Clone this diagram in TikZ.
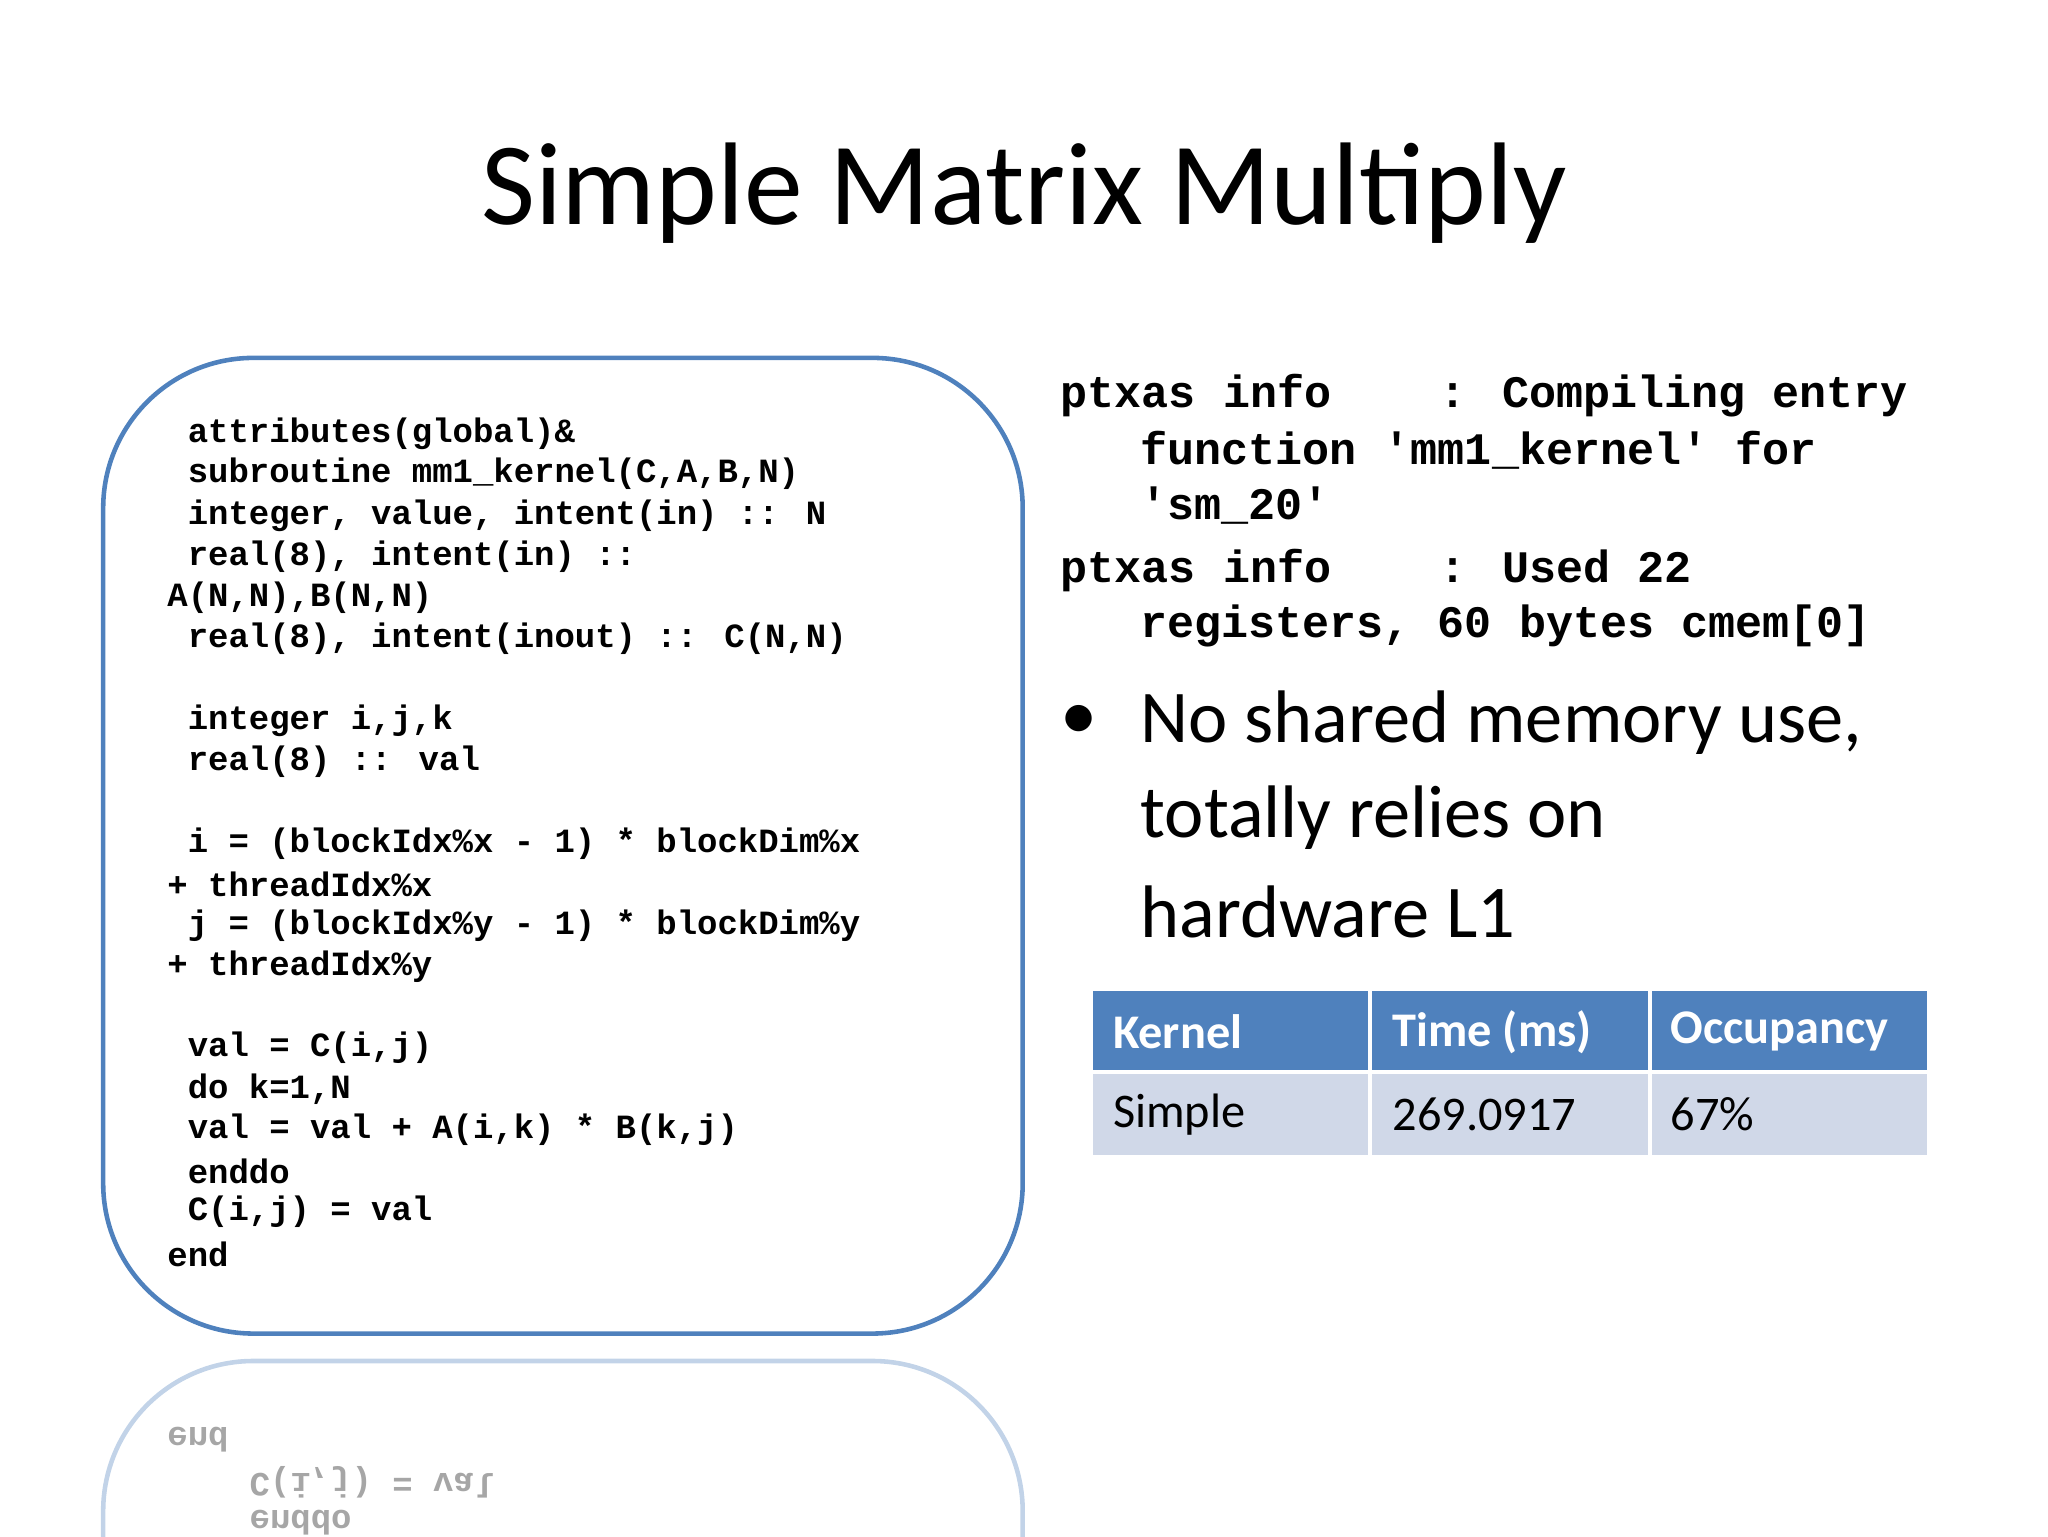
\documentclass[tikz,border=0pt]{standalone}
\usepackage{fontspec}
\setmainfont{Carlito}
\newfontfamily\codef{Liberation Mono}[BoldFont={Liberation Mono Bold}]
\definecolor{ppblue}{HTML}{4F81BD}
\definecolor{rowc}{HTML}{D0D8E8}
\tikzset{
 code/.style={anchor=west,inner sep=0pt,font=\codef\bfseries\fontsize{26}{26}\selectfont},
 ptx/.style={anchor=west,inner sep=0pt,font=\codef\bfseries\fontsize{34.5}{34.5}\selectfont},
 bul/.style={anchor=west,inner sep=0pt,font=\fontsize{57}{57}\selectfont},
 hdr/.style={anchor=west,inner sep=0pt,text=white,font=\bfseries\fontsize{37}{37}\selectfont},
 cell/.style={anchor=west,inner sep=0pt,font=\fontsize{37}{37}\selectfont},
}
\begin{document}
\begin{tikzpicture}[x=1pt,y=-1pt]
\useasboundingbox (0,0) rectangle (1568,1176);
\node[inner sep=0pt,font=\fontsize{90}{90}\selectfont] (title) at (784,148) {Simple Matrix Multiply};
\draw[ppblue,line width=3.5pt,rounded corners=115pt] (79,274) rectangle (783,1021);
\foreach \y/\t in {332/{ attributes(global)\&},363/{  subroutine mm1\_kernel(C,A,B,N)},395/{    integer, value, intent(in) :: N},426/{    real(8), intent(in) ::},458/{A(N,N),B(N,N)},489/{    real(8), intent(inout) :: C(N,N)},552/{    integer i,j,k},583/{    real(8) :: val},646/{    i = (blockIdx\%x - 1) * blockDim\%x},677/{+ threadIdx\%x},709/{    j = (blockIdx\%y - 1) * blockDim\%y},740/{+ threadIdx\%y},802/{    val = C(i,j)},834/{    do k=1,N},865/{      val = val + A(i,k) * B(k,j)},897/{    enddo},928/{    C(i,j) = val},960/{end}}
 \node[code] at (128,\y) {\obeyspaces\t};
% reflection
\begin{scope}[opacity=0.35]
\clip (0,1032) rectangle (1568,1176);
\draw[ppblue,line width=3.5pt,rounded corners=115pt] (79,1042) rectangle (783,1789);
\node[code,yscale=-1,text=black] at (128,1102) {end};
\node[code,yscale=-1,text=black] at (191,1135) {C(i,j) = val};
\node[code,yscale=-1,text=black] at (191,1166) {enddo};
\end{scope}
% right text
\node[ptx] at (812,303) {ptxas info\ \ \ \ : Compiling entry};
\node[ptx] at (873,345) {function 'mm1\_kernel' for};
\node[ptx] at (873,387) {'sm\_20'};
\node[ptx] at (812,437) {ptxas info\ \ \ \ : Used 22};
\node[ptx] at (873,479) {registers, 60 bytes cmem[0]};
\node[bul] at (812,553) {•};
\node[bul] at (873,553) {No shared memory use,};
\node[bul] at (873,626) {totally relies on};
\node[bul] at (873,698) {hardware L1};
% table
\fill[ppblue] (837,759) rectangle (1475,821);
\fill[rowc] (837,821) rectangle (1475,884);
\draw[white,line width=3pt] (837,821) -- (1475,821) (1049,759) -- (1049,884) (1263,759) -- (1263,884);
\node[hdr] at (852,790) {Kernel};
\node[hdr] at (1066,790) {Time (ms)};
\node[hdr] at (1279,790) {Occupancy};
\node[cell] at (852,853) {Simple};
\node[cell] at (1066,853) {269.0917};
\node[cell] at (1279,853) {67\%};
\end{tikzpicture}
\end{document}
